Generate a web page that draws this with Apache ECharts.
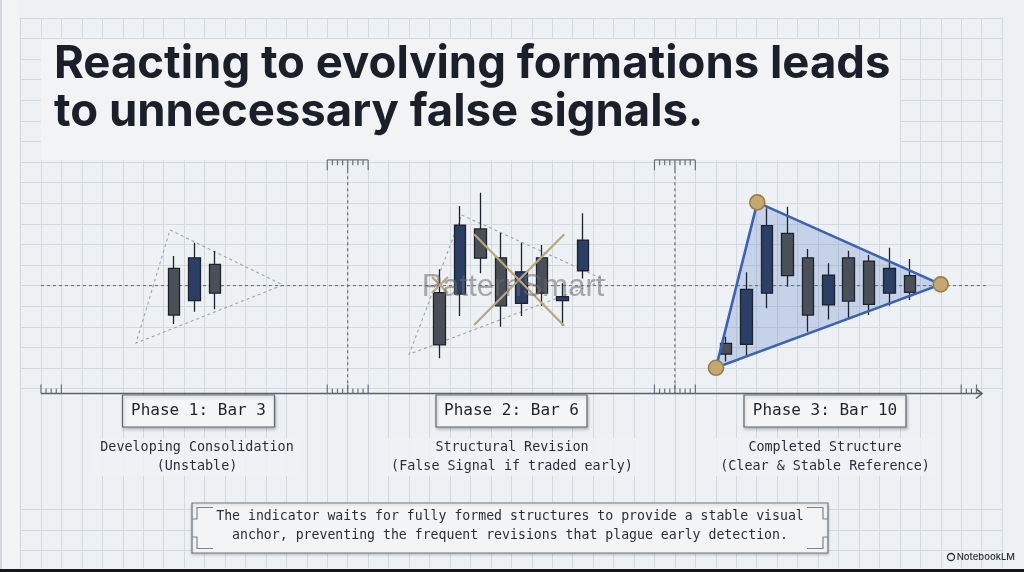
<!DOCTYPE html>
<html>
<head>
<meta charset="utf-8">
<script src="https://cdn.jsdelivr.net/npm/echarts@6/dist/echarts.min.js"></script>
<style>
html,body{margin:0;padding:0;background:#eef1f4;}
#chart{width:1024px;height:572px;}
</style>
</head>
<body>
<div id="chart"></div>
<script>
// ---------------- data ----------------
const titleLines = ['Reacting to evolving formations leads', 'to unnecessary false signals.'];
const phaseLabels = ['Phase 1: Bar 3', 'Phase 2: Bar 6', 'Phase 3: Bar 10'];
const phaseNotes = [
  ['Developing Consolidation', '(Unstable)'],
  ['Structural Revision', '(False Signal if traded early)'],
  ['Completed Structure', '(Clear & Stable Reference)']
];
const footerLines = [
  'The indicator waits for fully formed structures to provide a stable visual',
  'anchor, preventing the frequent revisions that plague early detection.'
];
const watermark = 'PatternSmart';
const brand = 'NotebookLM';

// bar positions (grid units) and [open, close, low, high]
const phase1Bars = [7.5, 8.5, 9.5];
const phase1OHLC = [
  [14.84, 12.57, 12.14, 15.44],
  [13.27, 15.35, 12.73, 16.08],
  [15.03, 13.63, 12.85, 15.68]
];
const phase2Bars = [20.5, 21.5, 22.5, 23.5, 24.5, 25.5, 26.5, 27.5];
const phase2OHLC = [
  [13.66, 11.12, 10.47, 14.79],
  [13.59, 16.94, 12.52, 17.86],
  [16.75, 15.33, 14.60, 18.51],
  [15.35, 13.02, 12.00, 16.57],
  [13.14, 14.67, 12.52, 16.08],
  [15.35, 13.63, 13.01, 15.97],
  [13.27, 13.46, 12.04, 14.11],
  [14.72, 16.21, 14.35, 17.51]
];
const phase3Bars = [34.5, 35.5, 36.5, 37.5, 38.5, 39.5, 40.5, 41.5, 42.5, 43.5];
const phase3OHLC = [
  [11.20, 10.67, 10.31, 11.52],
  [11.15, 13.82, 10.55, 14.65],
  [13.63, 16.91, 12.90, 17.75],
  [16.54, 14.48, 13.95, 17.83],
  [15.35, 12.57, 11.76, 15.78],
  [13.06, 14.51, 12.36, 15.08],
  [15.35, 13.25, 12.44, 15.69],
  [15.19, 13.09, 12.57, 15.49],
  [13.63, 14.84, 13.02, 15.84],
  [14.48, 13.67, 13.30, 15.29]
];
// formation outlines
const phase1Triangle = [[7.31, 16.70], [12.84, 14.03], [5.65, 11.21]];
const phase2Triangle = [[21.57, 17.43], [28.58, 14.27], [19.01, 10.67]];
const phase3Triangle = [[36.03, 18.04], [45.00, 14.06], [34.01, 10.01]];
const smallCross = [[20.12, 14.42, 20.90, 13.64], [20.12, 13.64, 20.90, 14.42]];
const bigCross = [[22.18, 16.49, 26.58, 12.05], [22.18, 12.09, 26.59, 16.49]];
// guide levels
const midLevel = 14.0;
const axisLevel = 8.76;
const axisStart = 1;
const axisEnd = 47.02;
const phaseDividers = [16, 32];
const rulerTop = 20.10;

// ---------------- helpers ----------------
const GRID_L = 20.5, GRID_W = 981.6, GRID_T = 17.8, UNIT_Y = 20.6;
function candles(bars, ohlc) {
  return bars.map((x, i) => [x].concat(ohlc[i]));
}
function shapeSeries(pts, style, closed, z) {
  return {
    type: 'custom', xAxisIndex: 0, yAxisIndex: 0, z: z, silent: true, clip: false,
    data: pts,
    renderItem: function (params, api) {
      if (params.dataIndex !== 0) return null;
      return {
        type: closed ? 'polygon' : 'polyline',
        shape: { points: pts.map(p => api.coord(p)) },
        style: Object.assign({}, style)
      };
    }
  };
}
function segSeries(segs, style, z) {
  return {
    type: 'custom', xAxisIndex: 0, yAxisIndex: 0, z: z, silent: true, clip: false,
    encode: { x: [0, 2], y: [1, 3] },
    data: segs,
    renderItem: function (params, api) {
      const a = api.coord([api.value(0), api.value(1)]);
      const b = api.coord([api.value(2), api.value(3)]);
      return { type: 'line', shape: { x1: a[0], y1: a[1], x2: b[0], y2: b[1] }, style: Object.assign({}, style) };
    }
  };
}
// ruler ticks (decoration)
function rulerTicks(from, to, base, longLen, shortLen, dir) {
  const out = [];
  for (let x = from; x <= to + 1e-6; x += 0.25) {
    const isLong = Math.abs(x - Math.round(x)) < 1e-6;
    const len = isLong ? longLen : shortLen;
    out.push([x, base, x, base + dir * len]);
  }
  return out;
}
const rulerSegs = [].concat(
  rulerTicks(15, 17, rulerTop, 0.50, 0.26, -1),
  rulerTicks(31, 33, rulerTop, 0.50, 0.26, -1),
  [[15, rulerTop, 17, rulerTop], [31, rulerTop, 33, rulerTop]],
  rulerTicks(1, 2, axisLevel, 0.44, 0.24, 1),
  rulerTicks(15, 17, axisLevel, 0.44, 0.24, 1),
  rulerTicks(31, 33, axisLevel, 0.44, 0.24, 1),
  rulerTicks(46, 46.75, axisLevel, 0.44, 0.24, 1),
  [[46.75, axisLevel, 46.75, axisLevel + 0.44]]
);
const axisSegs = [[axisStart, axisLevel, axisEnd, axisLevel]];
const arrowPts = [[axisEnd - 0.30, axisLevel + 0.24], [axisEnd, axisLevel], [axisEnd - 0.30, axisLevel - 0.24]];
const dividerSegs = phaseDividers.map(x => [x, rulerTop - 0.5, x, axisLevel]);
const midSegs = [[axisStart, midLevel, 47.2, midLevel]];

// ---------------- chart ----------------
const chart = echarts.init(document.getElementById('chart'), null, { renderer: 'canvas' });

const BG = '#eef1f4';
const GRIDLINE = '#d4d9e0';
const MONO = "'DejaVu Sans Mono', 'Liberation Mono', monospace";

function xAxisCfg(gi, showSplit) {
  return {
    type: 'value', gridIndex: gi, min: 0, max: 48, interval: 1,
    axisLine: { show: false }, axisTick: { show: false }, axisLabel: { show: false },
    splitLine: { show: showSplit, lineStyle: { color: GRIDLINE, width: 1 } }
  };
}
function yAxisCfg(gi, min, max, showSplit) {
  return {
    type: 'value', gridIndex: gi, min: min, max: max, interval: 1,
    axisLine: { show: false }, axisTick: { show: false }, axisLabel: { show: false },
    splitLine: { show: showSplit, lineStyle: { color: GRIDLINE, width: 1 } }
  };
}

const phaseCenters = [198.5, 511.5, 825];
const phaseBoxW = [152, 151, 162];

const graphics = [];
// left border strip
graphics.push({ type: 'rect', z: 0, shape: { x: 0, y: 0, width: 19, height: 572 }, style: { fill: '#f3f4f6' } });
graphics.push({ type: 'line', z: 1, shape: { x1: 1, y1: 0, x2: 1, y2: 572 }, style: { stroke: '#c9ced5', lineWidth: 1.5 } });
// title block
graphics.push({ type: 'rect', z: 50, shape: { x: 41, y: 39, width: 859, height: 121 }, style: { fill: '#f2f3f5' } });
graphics.push({ type: 'text', z: 51, x: 54, y: 64, style: { text: titleLines[0], fontFamily: 'Inter', fontWeight: 700, fontSize: 45.5, fill: '#1a1f29', verticalAlign: 'middle' } });
graphics.push({ type: 'text', z: 51, x: 54, y: 112, style: { text: titleLines[1], fontFamily: 'Inter', fontWeight: 700, fontSize: 45.5, fill: '#1a1f29', verticalAlign: 'middle' } });
// phase labels and notes
phaseLabels.forEach((t, i) => {
  const w = phaseBoxW[i];
  graphics.push({ type: 'rect', z: 50, shape: { x: phaseCenters[i] - w / 2, y: 395, width: w, height: 32 },
    style: { fill: '#f4f5f7', stroke: '#5f6670', lineWidth: 1.2, shadowBlur: 3, shadowOffsetX: 1, shadowOffsetY: 2, shadowColor: 'rgba(0,0,0,0.22)' } });
  graphics.push({ type: 'text', z: 51, x: phaseCenters[i], y: 411, style: { text: t, fontFamily: MONO, fontSize: 16, fill: '#1f242b', align: 'center', verticalAlign: 'middle' } });
});
const noteCenters = [197, 512, 825];
phaseNotes.forEach((lines, i) => {
  const w = Math.max(lines[0].length, lines[1].length) * 8.1 + 12;
  graphics.push({ type: 'rect', z: 49, shape: { x: noteCenters[i] - w / 2, y: 438, width: w, height: 38 }, style: { fill: 'rgba(239,241,244,0.85)' } });
  lines.forEach((t, j) => {
    graphics.push({ type: 'text', z: 51, x: noteCenters[i], y: 448 + j * 19, style: { text: t, fontFamily: MONO, fontSize: 13.4, fill: '#2a2f37', align: 'center', verticalAlign: 'middle' } });
  });
});
// footer box
graphics.push({ type: 'rect', z: 50, shape: { x: 192, y: 503, width: 636, height: 50 },
  style: { fill: '#f3f4f6', stroke: '#6f7680', lineWidth: 1.2, shadowBlur: 3, shadowOffsetY: 1.5, shadowColor: 'rgba(0,0,0,0.18)' } });
const bx0 = 192, bx1 = 828, by0 = 503, by1 = 553;
const brk = [
  [[bx0 + 21, by0 + 4.5], [bx0 + 5, by0 + 4.5], [bx0 + 5, by0 + 16], [bx0, by0 + 16]],
  [[bx0 + 21, by1 - 4.5], [bx0 + 5, by1 - 4.5], [bx0 + 5, by1 - 16], [bx0, by1 - 16]],
  [[bx1 - 21, by0 + 4.5], [bx1 - 5, by0 + 4.5], [bx1 - 5, by0 + 16], [bx1, by0 + 16]],
  [[bx1 - 21, by1 - 4.5], [bx1 - 5, by1 - 4.5], [bx1 - 5, by1 - 16], [bx1, by1 - 16]]
];
brk.forEach(p => graphics.push({ type: 'polyline', z: 52, shape: { points: p }, style: { stroke: '#7d848e', lineWidth: 1.2, fill: null } }));
footerLines.forEach((t, j) => {
  graphics.push({ type: 'text', z: 51, x: 510, y: 517 + j * 19, style: { text: t, fontFamily: MONO, fontSize: 13.2, fill: '#2a2f37', align: 'center', verticalAlign: 'middle' } });
});
// watermark
graphics.push({ type: 'text', z: 60, x: 513, y: 287, style: { text: watermark, fontFamily: "'Liberation Sans', Arial, sans-serif", fontSize: 31, fill: 'rgba(105,105,110,0.55)', align: 'center', verticalAlign: 'middle' } });
// brand
graphics.push({ type: 'text', z: 51, x: 1015, y: 557, style: { text: brand, fontFamily: 'Inter', fontWeight: 500, fontSize: 9.5, fill: '#2b2f36', align: 'right', verticalAlign: 'middle' } });
graphics.push({ type: 'circle', z: 51, shape: { cx: 951, cy: 557, r: 3.5 }, style: { fill: 'none', stroke: '#2b2f36', lineWidth: 1.3 } });
// bottom dark strip
graphics.push({ type: 'rect', z: 55, shape: { x: 0, y: 569, width: 1024, height: 3 }, style: { fill: '#15171a' } });

const candleStyle = {
  color: '#2b3e66', color0: '#4b5058',
  borderColor: '#1d232c', borderColor0: '#1d232c', borderWidth: 1.3
};
function candleSeries(name, bars, ohlc) {
  return {
    type: 'candlestick', name: name, xAxisIndex: 0, yAxisIndex: 0, z: 3,
    barWidth: 12, encode: { x: 0, y: [1, 2, 3, 4] },
    itemStyle: candleStyle, silent: true,
    data: candles(bars, ohlc)
  };
}

const option = {
  backgroundColor: BG,
  animation: false,
  grid: [
    { left: GRID_L, width: GRID_W, top: GRID_T, height: 18 * UNIT_Y },
    { left: GRID_L, width: GRID_W, top: GRID_T + 18 * UNIT_Y, bottom: 4 },
    { left: GRID_L, width: GRID_W, top: 509.5, height: 41 }
  ],
  xAxis: [xAxisCfg(0, true), xAxisCfg(1, true), xAxisCfg(2, false)],
  yAxis: [yAxisCfg(0, 9, 27, true), yAxisCfg(1, 0, 1, false), yAxisCfg(2, 0, 2, true)],
  graphic: { elements: graphics },
  series: [
    shapeSeries(phase3Triangle, { fill: 'rgba(70,112,192,0.24)', stroke: 'none' }, true, 1),
    shapeSeries(phase1Triangle, { fill: 'none', stroke: '#9ea4ac', lineWidth: 1.1, lineDash: [3, 3] }, true, 1),
    shapeSeries(phase2Triangle, { fill: 'none', stroke: '#9ea4ac', lineWidth: 1.1, lineDash: [3, 3] }, true, 1),
    segSeries(midSegs, { stroke: '#6c7179', lineWidth: 1.1, lineDash: [3, 3] }, 2),
    segSeries(dividerSegs, { stroke: '#6c7179', lineWidth: 1.2, lineDash: [3, 3] }, 2),
    segSeries(axisSegs, { stroke: '#59616c', lineWidth: 1.5 }, 2),
    segSeries(rulerSegs, { stroke: '#6a717b', lineWidth: 1.2 }, 52),
    shapeSeries(arrowPts, { fill: 'none', stroke: '#59616c', lineWidth: 1.5 }, false, 2),
    candleSeries('Phase 1', phase1Bars, phase1OHLC),
    candleSeries('Phase 2', phase2Bars, phase2OHLC),
    candleSeries('Phase 3', phase3Bars, phase3OHLC),
    shapeSeries(phase3Triangle, { fill: 'none', stroke: '#3b63b2', lineWidth: 2.6 }, true, 4),
    segSeries(smallCross, { stroke: '#b9a77b', lineWidth: 2.2 }, 5),
    segSeries(bigCross, { stroke: '#b9a77b', lineWidth: 2.2 }, 5),
    {
      type: 'scatter', xAxisIndex: 0, yAxisIndex: 0, z: 6, silent: true,
      symbolSize: 15, data: phase3Triangle,
      itemStyle: { color: '#c6a86e', borderColor: '#96804f', borderWidth: 1.6, opacity: 1 }
    }
  ]
};
chart.setOption(option);
</script>
</body>
</html>
